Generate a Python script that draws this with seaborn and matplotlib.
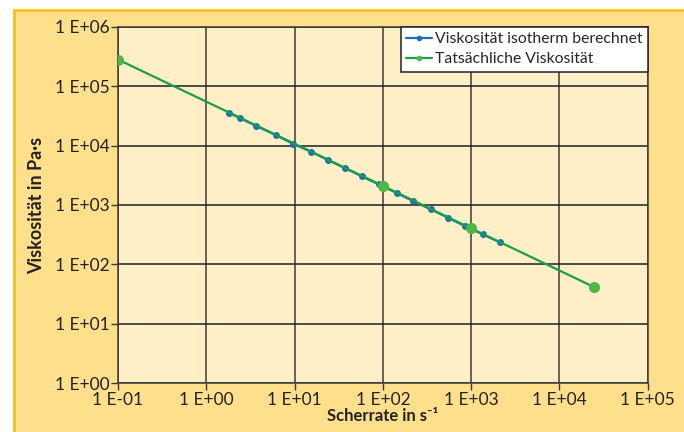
import numpy as np
import pandas as pd
import matplotlib
matplotlib.use("Agg")
import matplotlib.pyplot as plt
import seaborn as sns
from matplotlib.patches import Rectangle
from matplotlib.lines import Line2D
from matplotlib.ticker import FuncFormatter, FixedLocator, NullLocator

# calculated isothermal viscosity
shear_calc = [1.8, 2.4, 3.65, 6.15, 9.6, 15.4, 24, 37, 58, 90, 144, 220, 350, 546, 850, 1360, 2120]
visc_calc = [35600, 29000, 21500, 15000, 10700, 7870, 5700, 4180, 3030, 2220,
             1590, 1160, 844, 610, 442, 320, 235]

# measured viscosity
shear_real = [0.1, 100, 1000, 24800]
visc_real = [280000, 2100, 404, 41.5]

label_calc = "Viskosität isotherm berechnet"
label_real = "Tatsächliche Viskosität"

sns.set_style("white")
plt.rcParams["font.family"] = ["Lato", "DejaVu Sans"]

df_calc = pd.DataFrame({"x": shear_calc, "y": visc_calc})
df_real = pd.DataFrame({"x": shear_real, "y": visc_real})

fig = plt.figure(figsize=(6.84, 4.32), dpi=100)
fig.patch.set_facecolor("white")

# yellow panel with border on top and left
panel_left, panel_top = 14 / 684, 1 - 10 / 432
fig.patches.append(Rectangle((panel_left, 0), 1 - panel_left, panel_top,
                             transform=fig.transFigure, facecolor="#FEDF8C",
                             edgecolor="none", zorder=-10))
fig.lines.append(Line2D([panel_left, 1], [panel_top, panel_top], transform=fig.transFigure,
                        color="#F7C11C", lw=2, zorder=-5))
fig.lines.append(Line2D([panel_left, panel_left], [0, panel_top], transform=fig.transFigure,
                        color="#F7C11C", lw=2, zorder=-5))

ax = fig.add_axes([118 / 684, (432 - 383.3) / 432, (647.7 - 118) / 684, (383.3 - 26.7) / 432])
ax.set_facecolor("#FEEFC6")

sns.lineplot(data=df_calc, x="x", y="y", ax=ax, color="#1E6DB6", marker="o",
             markersize=5, markeredgewidth=0, linewidth=1.6, label=label_calc, zorder=3)
sns.lineplot(data=df_real, x="x", y="y", ax=ax, color="#1A9E4A", linewidth=1.6,
             marker="o", markersize=8, markerfacecolor="#4DB848", markeredgewidth=0,
             label=label_real, zorder=4)

ax.set_xscale("log")
ax.set_yscale("log")
ax.set_xlim(0.1, 1e5)
ax.set_ylim(1, 1e6)

fmt = FuncFormatter(lambda v, p: f"1 E{int(round(np.log10(v))):+03d}")
ax.xaxis.set_major_locator(FixedLocator([10.0 ** k for k in range(-1, 6)]))
ax.yaxis.set_major_locator(FixedLocator([10.0 ** k for k in range(0, 7)]))
ax.xaxis.set_minor_locator(NullLocator())
ax.yaxis.set_minor_locator(NullLocator())
ax.xaxis.set_major_formatter(fmt)
ax.yaxis.set_major_formatter(fmt)

ax.grid(True, which="major", axis="y", color="#1E1E1E", linewidth=1.1, zorder=1)
ax.grid(True, which="major", axis="x", color="#5A5550", linewidth=1.3, zorder=1)
ax.set_axisbelow(True)
for side in ["top", "right", "left", "bottom"]:
    ax.spines[side].set_color("#3A3A3A")
    ax.spines[side].set_linewidth(1.1)

ax.tick_params(axis="both", which="major", length=5, width=1, color="#3A3A3A",
               labelsize=12.5, labelcolor="#222222", pad=1, direction="out")
ax.tick_params(axis="x", bottom=True)
ax.tick_params(axis="y", left=True)

ax.set_xlabel("Scherrate in s⁻¹", fontsize=12, fontweight="bold", color="#222222", labelpad=0)
ax.set_ylabel("Viskosität in Pa·s", fontsize=13, fontweight="bold", color="#222222", labelpad=7)

leg = ax.legend(loc="upper right", borderaxespad=0, fontsize=11.3, frameon=True,
                fancybox=False, handlelength=1.6, handletextpad=0.2,
                borderpad=0.35, labelspacing=0.4)
leg.get_frame().set_edgecolor("#222222")
leg.get_frame().set_linewidth(1.1)
leg.get_frame().set_facecolor("white")
leg.get_frame().set_alpha(1)
for h in leg.legend_handles:
    h.set_markersize(4)

fig.savefig("out.png", dpi=100)
